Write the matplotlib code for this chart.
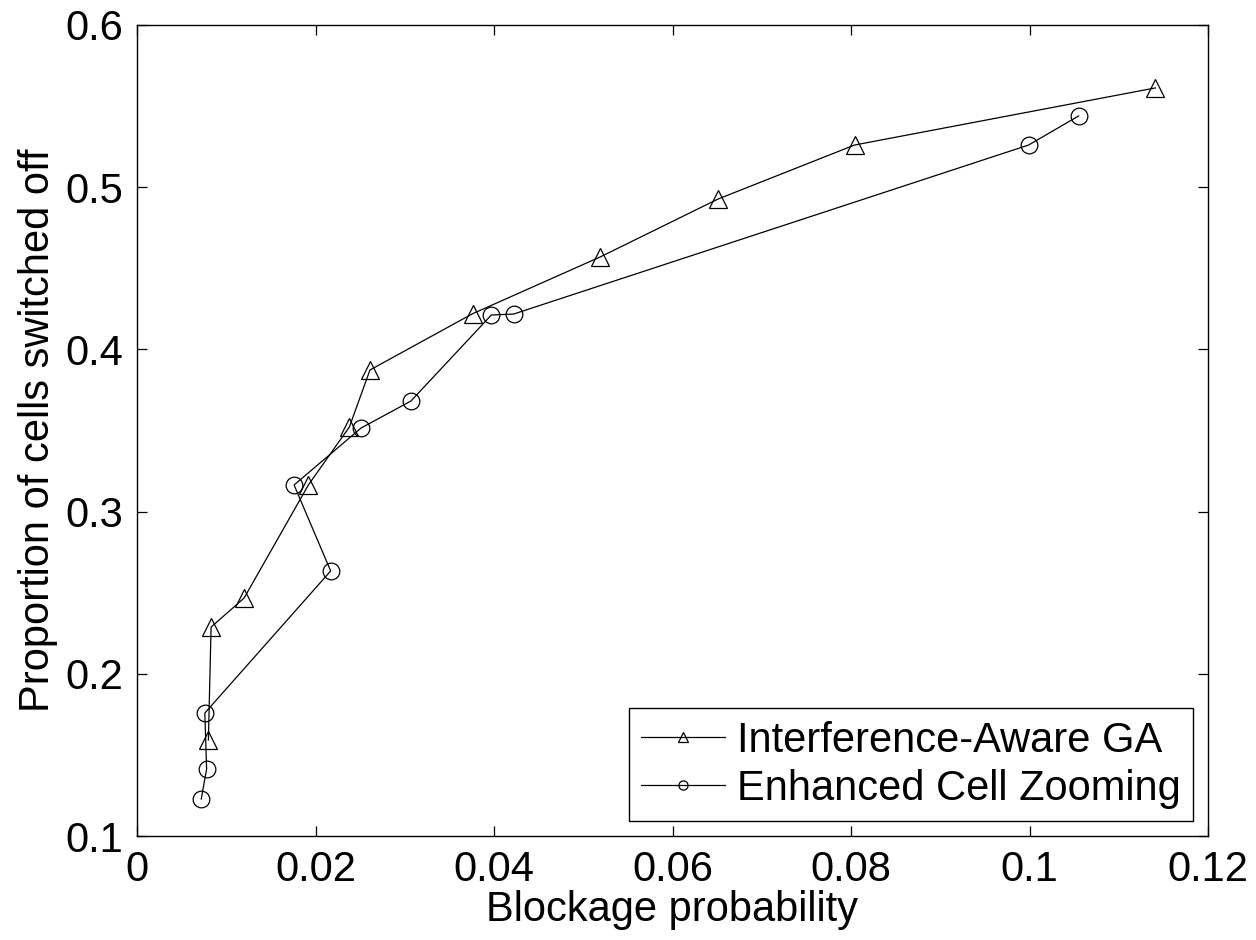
import numpy as np
import matplotlib
matplotlib.use('Agg')
import matplotlib.pyplot as plt

# Interference-Aware GA (triangles)
ga_x = [0.0080, 0.0083, 0.0120, 0.0192, 0.0238, 0.0261, 0.0376, 0.0519, 0.0651, 0.0804, 0.1141]
ga_y = [0.1592, 0.2288, 0.2467, 0.3164, 0.3522, 0.3873, 0.4220, 0.4570, 0.4927, 0.5260, 0.5612]

# Enhanced Cell Zooming (circles)
ecz_x = [0.0072, 0.0078, 0.0076, 0.0217, 0.0176, 0.0251, 0.0307, 0.0397, 0.0422, 0.0999, 0.1055]
ecz_y = [0.1228, 0.1413, 0.1758, 0.2634, 0.3164, 0.3515, 0.3682, 0.4212, 0.4218, 0.5260, 0.5439]

xticks = [0, 0.02, 0.04, 0.06, 0.08, 0.1, 0.12]
xtick_labels = ['0', '0.02', '0.04', '0.06', '0.08', '0.1', '0.12']
yticks = [0.1, 0.2, 0.3, 0.4, 0.5, 0.6]
ytick_labels = ['0.1', '0.2', '0.3', '0.4', '0.5', '0.6']

plt.rcParams['font.family'] = ['Liberation Sans', 'DejaVu Sans']
plt.rcParams['font.size'] = 30

fig = plt.figure(figsize=(12.56, 9.4), dpi=100)
ax = fig.add_axes([137/1256, 1 - 836/940, (1208-137)/1256, (836-25)/940])

ax.plot(ga_x, ga_y, color='k', linewidth=0.9, marker='^', markersize=13,
        markerfacecolor='none', markeredgecolor='k', markeredgewidth=0.9,
        label='Interference-Aware GA')
ax.plot(ecz_x, ecz_y, color='k', linewidth=0.9, marker='o', markersize=12,
        markerfacecolor='none', markeredgecolor='k', markeredgewidth=0.9,
        label='Enhanced Cell Zooming')

ax.set_xlim(0, 0.12)
ax.set_ylim(0.1, 0.6)
ax.set_xticks(xticks)
ax.set_xticklabels(xtick_labels)
ax.set_yticks(yticks)
ax.set_yticklabels(ytick_labels)
ax.tick_params(direction='in', length=7, width=0.9, top=True, right=True, pad=10)
for s in ax.spines.values():
    s.set_linewidth(1.0)

ax.set_xlabel('Blockage probability', labelpad=0)
ax.set_ylabel('Proportion of cells switched off', labelpad=5)

leg = ax.legend(loc='lower right', fancybox=False, edgecolor='k', framealpha=1,
                markerscale=0.55, handlelength=2.0, handletextpad=0.3,
                borderaxespad=0.35, labelspacing=0.2, borderpad=0.3)
leg.get_frame().set_linewidth(1.0)

plt.savefig('out.png', dpi=100)
